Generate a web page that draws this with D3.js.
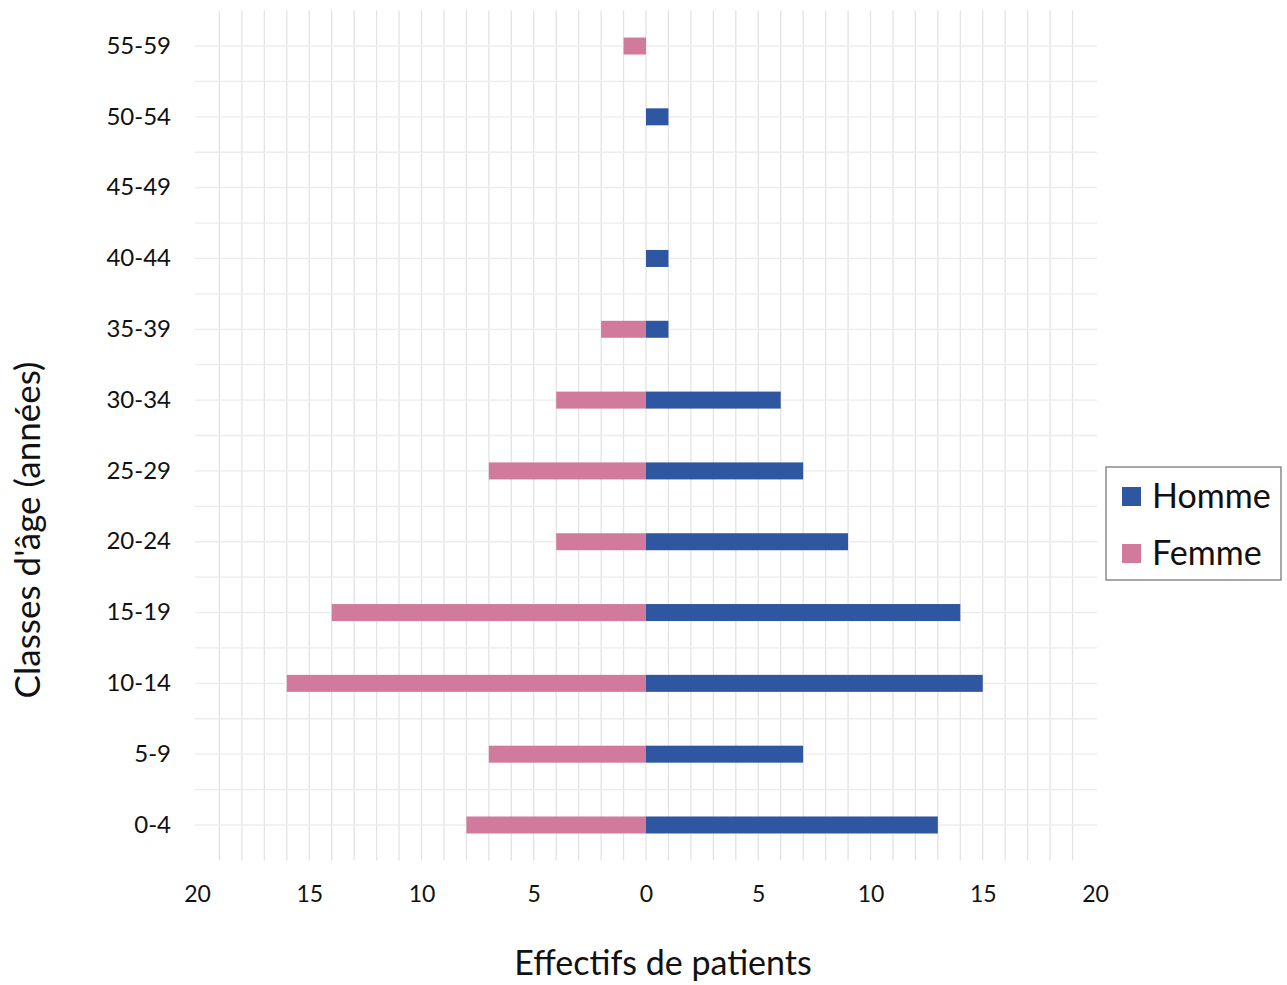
<!DOCTYPE html>
<html><head><meta charset="utf-8">
<script src="https://cdn.jsdelivr.net/npm/d3@7"></script>
<style>body{margin:0;background:#fff}svg{display:block}</style>
</head><body><svg id="c" width="1287" height="985"></svg>
<script>
const categories = ["0-4","5-9","10-14","15-19","20-24","25-29","30-34","35-39","40-44","45-49","50-54","55-59"];
const homme = [13,7,15,14,9,7,6,1,1,0,1,0];
const femme = [8,7,16,14,4,7,4,2,0,0,0,1];
const xTicks = [-20,-15,-10,-5,0,5,10,15,20];
const seriesNames = ["Homme","Femme"];
const colors = {Homme:"#2f56a1", Femme:"#d27a9c"};

const svg = d3.select("#c");
const font = "Lato, 'Open Sans', sans-serif";
const x = d3.scaleLinear().domain([-20,20]).range([197,1095]);
const y = d3.scaleBand().domain(categories.slice().reverse()).range([10.6,860.4]).padding(0);

// grid
const g = svg.append("g");
d3.range(-19,20).forEach(v=>{
  g.append("line").attr("x1",x(v)).attr("x2",x(v)).attr("y1",y.range()[0]).attr("y2",y.range()[1])
   .attr("stroke","#e3e3e3").attr("stroke-width",1.3);
});
categories.forEach((c,i)=>{
  const cy = y(c)+y.bandwidth()/2;
  g.append("line").attr("x1",195).attr("x2",1097).attr("y1",cy).attr("y2",cy).attr("stroke","#ececec").attr("stroke-width",1.3);
  if (i>0){
    const by = y(c)+y.bandwidth();
    g.append("line").attr("x1",195).attr("x2",1097).attr("y1",by).attr("y2",by).attr("stroke","#ececec").attr("stroke-width",1.3);
  }
});

const bh = 17;
svg.append("g").selectAll("rect").data(categories.map((c,i)=>({c,v:femme[i]})).filter(d=>d.v>0)).join("rect")
  .attr("x",d=>x(-d.v)).attr("width",d=>x(0)-x(-d.v))
  .attr("y",d=>y(d.c)+y.bandwidth()/2-bh/2).attr("height",bh)
  .attr("fill",colors.Femme);
svg.append("g").selectAll("rect").data(categories.map((c,i)=>({c,v:homme[i]})).filter(d=>d.v>0)).join("rect")
  .attr("x",x(0)).attr("width",d=>x(d.v)-x(0))
  .attr("y",d=>y(d.c)+y.bandwidth()/2-bh/2).attr("height",bh)
  .attr("fill",colors.Homme);

// axes
const xa = svg.append("g").attr("transform","translate(0,886)")
  .call(d3.axisBottom(x).tickValues(xTicks).tickFormat(d=>Math.abs(d)).tickSize(0).tickPadding(0));
xa.select(".domain").remove();
xa.selectAll("text").attr("font-family",font).attr("font-size",23).attr("fill","#111").attr("dy","0.71em");

const ya = svg.append("g").attr("transform","translate(171,0)")
  .call(d3.axisLeft(y).tickSize(0).tickPadding(0));
ya.select(".domain").remove();
ya.selectAll("text").attr("font-family",font).attr("font-size",24).attr("fill","#111");

svg.append("text").attr("x",663).attr("y",975).attr("text-anchor","middle")
  .attr("font-family",font).attr("font-size",34).attr("fill","#111").text("Effectifs de patients");
svg.append("text").attr("transform","translate(40,530) rotate(-90)").attr("text-anchor","middle")
  .attr("font-family",font).attr("font-size",35).attr("fill","#111").text("Classes d'âge (années)");

// legend
const lg = svg.append("g");
lg.append("rect").attr("x",1106).attr("y",467).attr("width",175).attr("height",113)
  .attr("fill","#fff").attr("stroke","#8a8a8a").attr("stroke-width",1.5);
seriesNames.forEach((s,i)=>{
  const cy = 496 + i*57;
  lg.append("rect").attr("x",1122).attr("y",cy-9).attr("width",19).attr("height",19).attr("fill",colors[s]);
  lg.append("text").attr("x",1152).attr("y",cy).attr("dy","0.36em").attr("font-family",font).attr("font-size",34)
    .attr("fill","#111").text(s);
});
</script></body></html>
